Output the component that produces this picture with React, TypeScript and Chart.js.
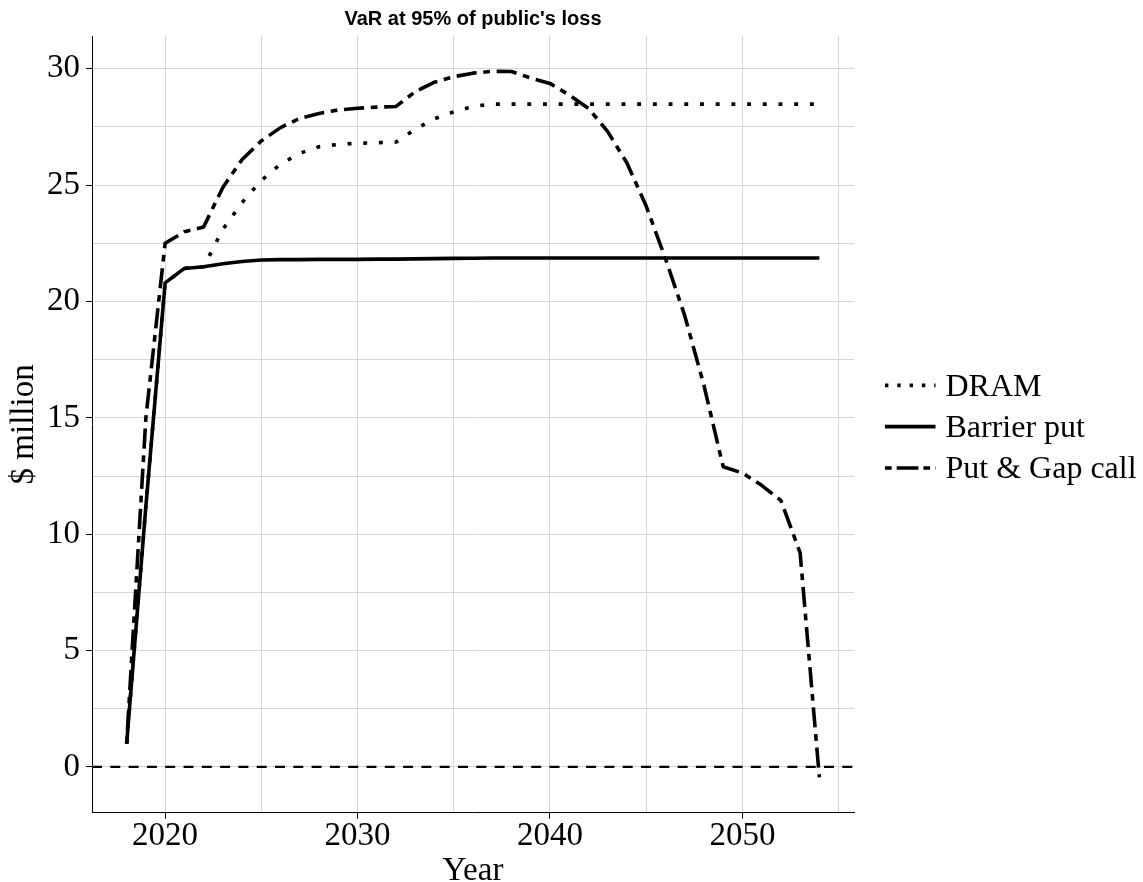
import React, { useEffect, useRef } from "react";
import { Chart, registerables } from "chart.js";

Chart.register(...registerables);

// ---- data ----
const years = [
  2018, 2019, 2020, 2021, 2022, 2023, 2024, 2025, 2026, 2027, 2028, 2029, 2030,
  2031, 2032, 2033, 2034, 2035, 2036, 2037, 2038, 2039, 2040, 2041, 2042, 2043,
  2044, 2045, 2046, 2047, 2048, 2049, 2050, 2051, 2052, 2053, 2054,
];

const dram = [
  1.0, 11.2, 20.8, 21.42, 21.49, 23.1, 24.25, 25.2, 25.9, 26.37, 26.65, 26.75, 26.8,
  26.82, 26.85, 27.4, 27.85, 28.15, 28.38, 28.48, 28.48, 28.48, 28.48, 28.48, 28.48, 28.48,
  28.48, 28.48, 28.48, 28.48, 28.48, 28.48, 28.48, 28.48, 28.48, 28.48, 28.48,
];

const barrierPut = [
  1.0, 11.2, 20.8, 21.42, 21.49, 21.62, 21.72, 21.78, 21.8, 21.8, 21.81, 21.81, 21.81,
  21.82, 21.82, 21.83, 21.84, 21.85, 21.86, 21.87, 21.87, 21.87, 21.87, 21.87, 21.87, 21.87,
  21.87, 21.87, 21.87, 21.87, 21.87, 21.87, 21.87, 21.87, 21.87, 21.87, 21.87,
];

const putGapCall = [
  1.0, 15.0, 22.5, 23.0, 23.2, 24.9, 26.1, 26.9, 27.47, 27.87, 28.08, 28.23, 28.3,
  28.35, 28.38, 29.02, 29.42, 29.66, 29.81, 29.89, 29.88, 29.6, 29.37, 28.87, 28.3, 27.3,
  25.95, 24.1, 21.85, 19.4, 16.4, 12.9, 12.63, 12.1, 11.45, 9.2, -0.45,
];

const seriesLabels = ["DRAM", "Barrier put", "Put & Gap call"];

const xGridYears = [2020, 2025, 2030, 2035, 2040, 2045, 2050, 2055];
const xTickYears = [2020, 2030, 2040, 2050];
const yGridValues = [0, 2.5, 5, 7.5, 10, 12.5, 15, 17.5, 20, 22.5, 25, 27.5, 30];
const yTickValues = [0, 5, 10, 15, 20, 25, 30];
const zeroLine = 0;

const chartTitle = "VaR at 95% of public's loss";
const xTitle = "Year";
const yTitle = "$ million";

// ---- styling ----
const W = 1143;
const H = 882;
const SERIF = '"Liberation Serif", "Times New Roman", serif';
const SANS = '"Liberation Sans", Arial, sans-serif';
const GRID = "#d6d6d6";
const LINE_W = 3.6;

const dramDash = [3.9, 11.8];
const putGapDash = [6.7, 6.7, 20.2, 6.7];
const zeroDash = [10, 8.3];

const legendKeyDash = [[3.4, 8.9], [], [6.7, 5, 21.7, 5]];

// axis limits: data range widened by 5% on each side
const expand = (lo: number, hi: number) => {
  const pad = (hi - lo) * 0.05;
  return [lo - pad, hi + pad];
};
const [xMin, xMax] = expand(years[0], years[years.length - 1]);
const allValues = [...dram, ...barrierPut, ...putGapCall];
const [yMin, yMax] = expand(Math.min(...allValues), Math.max(...allValues));

const toPoints = (vals: number[]) => years.map((x, i) => ({ x, y: vals[i] }));

const titleAndLegend = {
  id: "titleAndLegend",
  afterDraw(chart: any) {
    const { ctx, chartArea } = chart;
    ctx.save();
    // title
    ctx.fillStyle = "#000";
    ctx.font = `bold 20px ${SANS}`;
    ctx.textAlign = "center";
    ctx.textBaseline = "alphabetic";
    ctx.fillText(chartTitle, (chartArea.left + chartArea.right) / 2, 25);

    // legend on the right
    const keyX0 = chartArea.right + 31;
    const keyX1 = keyX0 + 50.5;
    const midY = (chartArea.top + chartArea.bottom) / 2 + 2.3;
    const gap = 41.3;
    seriesLabels.forEach((label, i) => {
      const y = midY + (i - 1) * gap;
      ctx.strokeStyle = "#000";
      ctx.lineWidth = LINE_W;
      ctx.lineCap = "butt";
      ctx.setLineDash(legendKeyDash[i]);
      ctx.beginPath();
      ctx.moveTo(keyX0, y);
      ctx.lineTo(keyX1, y);
      ctx.stroke();
      ctx.setLineDash([]);
      ctx.font = `32px ${SERIF}`;
      ctx.textAlign = "left";
      ctx.textBaseline = "alphabetic";
      ctx.fillText(label, keyX1 + 10, y + 10.4);
    });
    ctx.restore();
  },
};

export default function App() {
  const canvasRef = useRef<HTMLCanvasElement | null>(null);

  useEffect(() => {
    if (!canvasRef.current) return;
    const chart = new Chart(canvasRef.current, {
      type: "line",
      data: {
        datasets: [
          {
            label: "zero",
            data: [
              { x: xMin, y: zeroLine },
              { x: xMax, y: zeroLine },
            ],
            borderColor: "#000",
            borderWidth: 2.4,
            borderDash: zeroDash,
            pointRadius: 0,
            order: 4,
          },
          {
            label: seriesLabels[0],
            data: toPoints(dram),
            borderColor: "#000",
            borderWidth: LINE_W,
            borderDash: dramDash,
            borderCapStyle: "butt",
            borderJoinStyle: "round",
            pointRadius: 0,
            order: 3,
          },
          {
            label: seriesLabels[1],
            data: toPoints(barrierPut),
            borderColor: "#000",
            borderWidth: LINE_W,
            borderCapStyle: "butt",
            borderJoinStyle: "round",
            pointRadius: 0,
            order: 2,
          },
          {
            label: seriesLabels[2],
            data: toPoints(putGapCall),
            borderColor: "#000",
            borderWidth: LINE_W,
            borderDash: putGapDash,
            borderCapStyle: "butt",
            borderJoinStyle: "round",
            pointRadius: 0,
            order: 1,
          },
        ],
      },
      options: {
        animation: false,
        responsive: false,
        devicePixelRatio: 1,
        layout: { padding: { left: 0, right: 289, top: 36, bottom: 0 } },
        plugins: {
          legend: { display: false },
          tooltip: { enabled: false },
          title: { display: false },
        },
        elements: { line: { tension: 0, fill: false } },
        scales: {
          x: {
            type: "linear",
            min: xMin,
            max: xMax,
            afterBuildTicks: (s: any) => {
              s.ticks = xGridYears.map((v) => ({ value: v }));
            },
            afterFit: (s: any) => {
              s.height = 69.3;
            },
            ticks: {
              autoSkip: false,
              maxRotation: 0,
              padding: 0,
              color: "#000",
              font: { family: SERIF, size: 33, lineHeight: 1.05 },
              callback: (v: any) => (xTickYears.includes(v) ? String(v) : ""),
            },
            grid: {
              color: GRID,
              lineWidth: 1,
              tickLength: 6,
              tickWidth: 1,
              tickColor: (c: any) =>
                c.tick && xTickYears.includes(c.tick.value) ? "#000" : "rgba(0,0,0,0)",
            },
            border: { display: true, color: "#000", width: 1 },
            title: {
              display: true,
              text: xTitle,
              color: "#000",
              padding: 0,
              font: { family: SERIF, size: 33, lineHeight: 0.67 },
            },
          },
          y: {
            type: "linear",
            min: yMin,
            max: yMax,
            afterBuildTicks: (s: any) => {
              s.ticks = yGridValues.map((v) => ({ value: v }));
            },
            afterFit: (s: any) => {
              s.width = 92;
            },
            ticks: {
              autoSkip: false,
              padding: 6,
              color: "#000",
              font: { family: SERIF, size: 33 },
              callback: (v: any) => (yTickValues.includes(v) ? String(v) : ""),
            },
            grid: {
              color: GRID,
              lineWidth: 1,
              tickLength: 6,
              tickWidth: 1,
              tickColor: (c: any) =>
                c.tick && yTickValues.includes(c.tick.value) ? "#000" : "rgba(0,0,0,0)",
            },
            border: { display: true, color: "#000", width: 1 },
            title: {
              display: true,
              text: yTitle,
              color: "#000",
              padding: { top: 5, bottom: 0 },
              font: { family: SERIF, size: 33, lineHeight: 1.2 },
            },
          },
        },
      },
      plugins: [titleAndLegend],
    });
    return () => chart.destroy();
  }, []);

  return (
    <div
      style={{
        position: "absolute",
        left: 0,
        top: 0,
        width: W,
        height: H,
        background: "#fff",
      }}
    >
      <canvas ref={canvasRef} width={W} height={H} style={{ display: "block" }} />
    </div>
  );
}
